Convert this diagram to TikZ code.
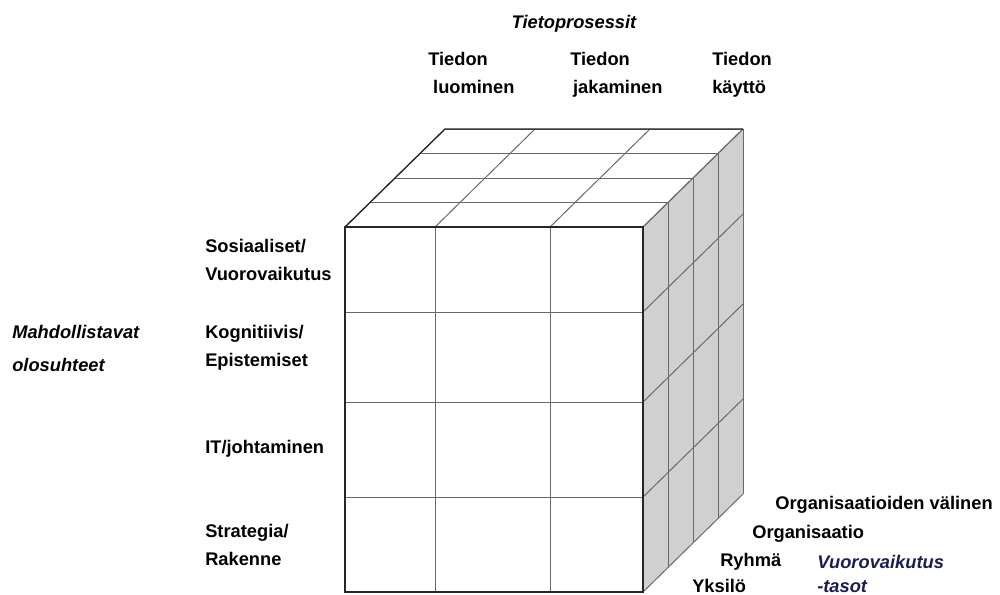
\documentclass[tikz,border=0pt]{standalone}
\usepackage{fontspec}
\setmainfont{Liberation Sans}
\usepackage{xcolor}
\usetikzlibrary{positioning}
\definecolor{side}{RGB}{208,208,208}
\definecolor{gridgray}{RGB}{105,105,105}
\definecolor{navy}{RGB}{28,28,82}

\begin{document}
\begin{tikzpicture}[x=0.025cm,y=-0.025cm,
  lbl/.style={font=\fontsize{13}{19.9}\selectfont\bfseries,align=left,inner sep=0pt,anchor=base west},
  head/.style={font=\fontsize{13}{23.5}\selectfont\bfseries\itshape,align=left,inner sep=0pt,anchor=base west},
  gridline/.style={draw=gridgray,line width=.7pt},
  edge/.style={draw=black!85,line width=.9pt}]
\useasboundingbox (0,0) rectangle (1000,594);
% cube: side face, top face, front face
\fill[side] (643,227) -- (743,129) -- (743,494) -- (643,592) -- cycle;
\fill[white] (345,227) -- (445,129) -- (743,129) -- (643,227) -- cycle;
\foreach \k in {0,...,4}{
  \draw[gridline] (345+25*\k,227-24.5*\k) -- (643+25*\k,227-24.5*\k);
  \draw[gridline] (643+25*\k,227-24.5*\k) -- (643+25*\k,592-24.5*\k);
}
\foreach \x in {345,435,550,643} \draw[gridline] (\x,227) -- ++(100,-98);
\foreach \y in {227,312,402,497,592} \draw[gridline] (643,\y) -- ++(100,-98);
\foreach \x in {435,550} \draw[gridline] (\x,227) -- (\x,592);
\foreach \y in {312,402,497} \draw[gridline] (345,\y) -- (643,\y);
\draw[edge] (345,227) rectangle (643,592);
\draw[edge] (345,227) -- (445,129) -- (743,129);

% labels (base = last line)
\node[head,anchor=base] (proc) at (574,28.5) {Tietoprosessit};
\node[lbl] (luo) at (428,93.5) {Tiedon\\\hspace*{3.5pt}luominen};
\node[lbl] (jak) at (570,93.5) {Tiedon\\\hspace*{2pt}jakaminen};
\node[lbl] (kay) at (712,93.5) {Tiedon\\käyttö};

\node[head] (mahd) at (12,371.5) {Mahdollistavat\\olosuhteet};
\node[lbl] (sos) at (205,280) {Sosiaaliset/\\Vuorovaikutus};
\node[lbl] (kog) at (205,366) {Kognitiivis/\\Epistemiset};
\node[lbl] (itj) at (205,453.5) {IT/johtaminen};
\node[lbl] (str) at (205,565) {Strategia/\\Rakenne};

\node[lbl] (orgv) at (775,509.5) {Organisaatioiden välinen};
\node[lbl] (org) at (752,538.5) {Organisaatio};
\node[lbl] (ryh) at (720,566.5) {Ryhmä};
\node[lbl] (yks) at (692,592) {Yksilö};
\node[head,text=navy,font=\fontsize{13}{16.6}\selectfont\bfseries\itshape] (taso) at (817,592) {Vuorovaikutus\\-tasot};
\end{tikzpicture}
\end{document}
